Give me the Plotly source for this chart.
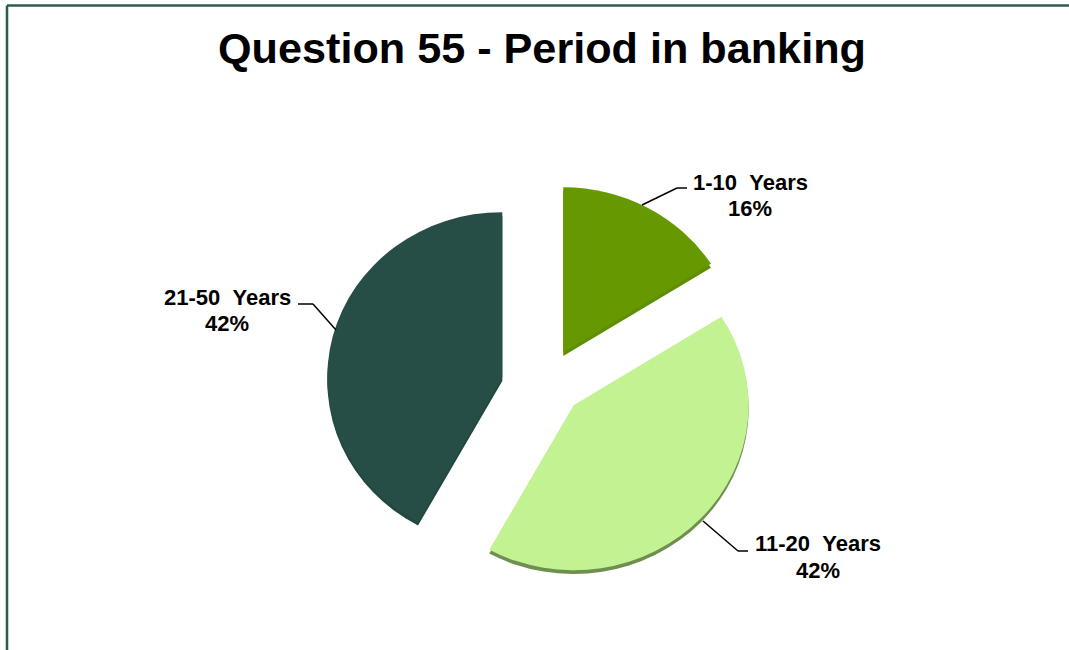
import plotly.graph_objects as go

categories = ["1-10 Years", "11-20 Years", "21-50 Years"]
values = [16, 42, 42]
percent_labels = ["16%", "42%", "42%"]
colors = ["#669900", "#C2F291", "#264D46"]
shadow_colors = ["#5F8F00", "#6F8F50", "#234840"]
title_text = "Question 55 - Period in banking"
pulls = [0.24, 0.24, 0.24]

W, H = 1069, 650
FONT = "Liberation Sans"
CLEAR = "rgba(0,0,0,0)"


def px(x):
    return x / W


def py(y):
    return 1 - y / H


cx, cy, r = 543, 387, 175
squash = 0.943
R = r * 1.24
slice_shift = [0, -9.5, 0]

fig = go.Figure()
for off, cols in ((4, shadow_colors), (0, colors)):
    for i in range(len(values)):
        c = cy + slice_shift[i] + off
        fig.add_trace(go.Pie(
            labels=categories, values=values, sort=False, direction="clockwise",
            rotation=0, pull=pulls, textinfo="none", hoverinfo="skip",
            marker=dict(colors=[cols[j] if j == i else CLEAR for j in range(len(values))],
                        line=dict(width=0)),
            showlegend=False,
            domain=dict(x=[px(cx - R), px(cx + R)], y=[py(c + R), py(c - R)]),
        ))

label_pos = [(750, 182, 208), (818, 543, 570), (227, 297, 323)]
annotations = []
for cat, pct, (x, y1, y2) in zip(categories, percent_labels, label_pos):
    for txt, y in ((cat.replace(" ", "\u00a0\u00a0"), y1), (pct, y2)):
        annotations.append(dict(
            text=f"<b>{txt}</b>", x=px(x), y=py(y), xref="paper", yref="paper",
            showarrow=False, xanchor="center", yanchor="middle",
            font=dict(family=FONT, size=22, color="black"),
        ))
annotations.append(dict(
    text=f"<b>{title_text}</b>", x=px(542), y=py(48), xref="paper", yref="paper",
    showarrow=False, xanchor="center", yanchor="middle",
    font=dict(family=FONT, size=43.2, color="black"),
))

leaders = [
    [(642, 205), (677, 188), (687, 188)],
    [(703, 521), (738, 551), (748, 551)],
    [(336, 330), (313, 304), (298, 304)],
]
shapes = []
for pts in leaders:
    for (x0, y0), (x1, y1) in zip(pts, pts[1:]):
        shapes.append(dict(type="line", xref="paper", yref="paper",
                           x0=px(x0), y0=py(y0), x1=px(x1), y1=py(y1),
                           line=dict(color="black", width=1.5)))
for x0, y0, x1, y1 in ((7, 5.5, 1069, 5.5), (7, 5.5, 7, 650)):
    shapes.append(dict(type="line", xref="paper", yref="paper",
                       x0=px(x0), y0=py(y0), x1=px(x1), y1=py(y1),
                       line=dict(color="#2F5A50", width=2.5)))

fig.update_layout(
    width=W, height=H, margin=dict(l=0, r=0, t=0, b=0),
    paper_bgcolor="white", plot_bgcolor="white",
    annotations=annotations, shapes=shapes,
)

post = """
document.body.style.margin = '0';
var gd = document.getElementById('{plot_id}');
function squashPie() {
  document.querySelectorAll('.pielayer').forEach(function (g) {
    g.setAttribute('transform', 'translate(0,%g) scale(1,%g) translate(0,%g)');
  });
}
squashPie();
gd.on('plotly_afterplot', squashPie);
""" % (cy, squash, -cy)
fig.write_html("out.html", post_script=post, config=dict(displayModeBar=False))
